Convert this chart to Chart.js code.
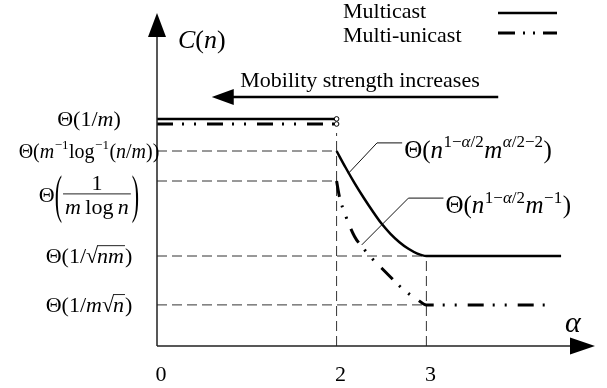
<!DOCTYPE html>
<html lang="en">
<head>
<meta charset="UTF-8">
<title>C(n) vs alpha</title>
<script src="https://cdn.jsdelivr.net/npm/chart.js"></script>
<style>
  html, body { margin: 0; padding: 0; background: #fff; }
  canvas { display: block; }
</style>
</head>
<body>
<canvas id="chart" width="607" height="388"></canvas>
<script>
// ---- data ----
const seriesNames = ['Multicast', 'Multi-unicast'];

// alpha < 2 : flat capacity (strong mobility)
const flatAlpha = [0, 2];
const multicastFlat = [7.57, 7.57];
const unicastFlat = [7.4, 7.4];

// 2 <= alpha <= 3 : decreasing, then flat tail
const multicastAlpha = [2, 2.1, 2.2, 2.3, 2.4, 2.5, 2.6, 2.7, 2.8, 2.9, 3, 4.5];
const multicastDrop = [6.5, 5.95, 5.43, 4.95, 4.5, 4.08, 3.74, 3.46, 3.24, 3.08, 3.0, 3.0];
const unicastAlpha = [2, 2.03, 2.1, 2.2, 2.3, 2.4, 2.5, 2.6, 2.7, 2.8, 2.9, 3, 4.41];
const unicastDrop = [5.5, 5.0, 4.35, 3.65, 3.25, 2.9, 2.6, 2.3, 2.0, 1.75, 1.55, 1.37, 1.37];

// ticks
const xTicks = [0, 2, 3];
const xTickLabels = ['0', '2', '3'];
const yTicks = [7.57, 6.5, 5.5, 3.0, 1.37];
// markup: _italic_, ^{sup}, √{radicand}, [num|den] = big-paren fraction
const yTickLabels = [
  'Θ(1/_m_)',
  'Θ(_m_^{−1}log^{−1}(_n_/_m_))',
  'Θ[1|_m_\u2009log\u2009_n_]',
  'Θ(1/√{_nm_})',
  'Θ(1/_m_√{_n_})'
];
const curveLabels = ['Θ(_n_^{1−_α_/2}_m_^{_α_/2−2})', 'Θ(_n_^{1−_α_/2}_m_^{−1})'];
const mobilityText = 'Mobility strength increases';

const FONT = '"Liberation Serif", "Times New Roman", serif';
const dashDot = [16, 9, 2, 10, 2, 11];
const guideDash = [10, 5];

function pts(xs, ys) { return xs.map((v, i) => ({x: v, y: ys[i]})); }

function guide(x1, y1, x2, y2) {
  return {
    data: [{x: x1, y: y1}, {x: x2, y: y2}],
    borderColor: '#333', borderWidth: 1, borderDash: guideDash,
    pointRadius: 0, fill: false, order: 5
  };
}

// ---- tiny math text renderer ----
function mathRun(ctx, s, x, y, size, draw) {
  let it = false, buf = '', i = 0;
  const font = sz => (it ? 'italic ' : '') + sz + 'px ' + FONT;
  const flush = () => {
    if (!buf) return;
    ctx.font = font(size);
    if (draw) ctx.fillText(buf, x, y);
    x += ctx.measureText(buf).width;
    buf = '';
  };
  while (i < s.length) {
    const c = s[i];
    if (c === '_') { flush(); it = !it; i++; }
    else if ((c === '^' || c === '√') && s[i + 1] === '{') {
      flush();
      const end = s.indexOf('}', i);
      const inner = s.slice(i + 2, end);
      if (c === '^') {
        x = mathRun(ctx, inner, x + 0.5, y - size * 0.42, Math.round(size * 0.66), draw) + 0.5;
      } else {
        ctx.font = size + 'px ' + FONT;
        if (draw) ctx.fillText('√', x, y);
        x += ctx.measureText('√').width - 1;
        const x0 = x;
        x = mathRun(ctx, inner, x, y, size, draw);
        if (draw) {
          ctx.beginPath();
          ctx.lineWidth = 1;
          ctx.moveTo(x0, y - size * 0.8);
          ctx.lineTo(x + 1, y - size * 0.8);
          ctx.stroke();
        }
        x += 1;
      }
      i = end + 1;
    }
    else if (c === '[') {
      flush();
      const end = s.indexOf(']', i);
      const bar = s.indexOf('|', i);
      const num = s.slice(i + 1, bar), den = s.slice(bar + 1, end);
      const wn = mathRun(ctx, num, 0, 0, size, false);
      const wd = mathRun(ctx, den, 0, 0, size, false);
      const w = Math.max(wn, wd) + 4;
      const mid = y - size * 0.3;
      x += bigParen(ctx, '(', x, mid, size, draw) + 1;
      if (draw) {
        mathRun(ctx, num, x + (w - wn) / 2, mid - size * 0.25, size, true);
        mathRun(ctx, den, x + (w - wd) / 2, mid + size * 0.85, size, true);
        ctx.beginPath();
        ctx.lineWidth = 1;
        ctx.moveTo(x, mid - size * 0.08);
        ctx.lineTo(x + w, mid - size * 0.08);
        ctx.stroke();
      }
      x += w + 1;
      x += bigParen(ctx, ')', x, mid, size, draw);
      i = end + 1;
    }
    else { buf += c; i++; }
  }
  flush();
  return x;
}

function bigParen(ctx, ch, x, mid, size, draw) {
  ctx.font = size + 'px ' + FONT;
  const w = ctx.measureText(ch).width;
  if (draw) {
    ctx.save();
    ctx.translate(x, mid);
    ctx.scale(1, 2.4);
    ctx.fillText(ch, 0, size * 0.3);
    ctx.restore();
  }
  return w;
}

// ---- decorations: axes, labels, legend, notes ----
const decor = {
  id: 'decor',
  afterDraw(chart) {
    const {ctx, chartArea: a, scales: {x, y}} = chart;
    const x0 = x.getPixelForValue(0), y0 = y.getPixelForValue(0);
    ctx.save();
    ctx.fillStyle = '#000';
    ctx.strokeStyle = '#222';

    // axes with arrow heads
    ctx.lineWidth = 1.5;
    ctx.beginPath();
    ctx.moveTo(x0, y0); ctx.lineTo(x0, a.top + 22);
    ctx.moveTo(x0, y0); ctx.lineTo(a.right - 26, y0);
    ctx.stroke();
    ctx.beginPath();
    ctx.moveTo(x0, a.top); ctx.lineTo(x0 - 9, a.top + 24); ctx.lineTo(x0 + 9, a.top + 24);
    ctx.closePath(); ctx.fill();
    ctx.beginPath();
    ctx.moveTo(a.right - 2, y0); ctx.lineTo(a.right - 27, y0 - 8.5); ctx.lineTo(a.right - 27, y0 + 8.5);
    ctx.closePath(); ctx.fill();

    // axis titles
    ctx.textBaseline = 'alphabetic';
    ctx.textAlign = 'left';
    mathRun(ctx, '_C_(_n_)', x0 + 21, 48, 26, true);
    mathRun(ctx, '_α_', a.right - 32, y0 - 14, 30, true);

    // x tick labels
    ctx.font = '22px ' + FONT;
    ctx.textAlign = 'center';
    xTicks.forEach((v, i) => ctx.fillText(xTickLabels[i], x.getPixelForValue(v) + 4, y0 + 35));
    ctx.textAlign = 'left';

    // y tick labels, centred in the left margin
    yTickLabels.forEach((lab, i) => {
      const size = lab.includes('log^') ? 20 : 22;
      const w = mathRun(ctx, lab, 0, 0, size, false);
      let by = y.getPixelForValue(yTicks[i]) + size * 0.33;
      if (lab.includes('[')) by += 14;
      mathRun(ctx, lab, 89 - w / 2, by, size, true);
    });

    // legend
    const legY = [13, 35];
    chart.data.datasets.filter(d => d.legend).forEach((d, i) => {
      ctx.font = '22px ' + FONT;
      ctx.textBaseline = 'middle';
      ctx.fillText(d.label, 343, legY[i] - (i ? -1 : 1));
      ctx.beginPath();
      ctx.setLineDash(i ? [17, 8, 2, 8, 2, 8] : []);
      ctx.lineWidth = d.borderWidth;
      ctx.strokeStyle = '#000';
      ctx.moveTo(498, legY[i] - (i ? 2 : 0)); ctx.lineTo(557, legY[i] - (i ? 2 : 0));
      ctx.stroke();
      ctx.setLineDash([]);
    });

    // mobility arrow
    const ay = y.getPixelForValue(8.3);
    const ax1 = x.getPixelForValue(0.61), ax2 = x.getPixelForValue(3.8);
    ctx.strokeStyle = '#000';
    ctx.lineWidth = 2.5;
    ctx.beginPath(); ctx.moveTo(ax1 + 15, ay); ctx.lineTo(ax2, ay); ctx.stroke();
    ctx.beginPath();
    ctx.moveTo(ax1, ay); ctx.lineTo(ax1 + 22, ay - 8); ctx.lineTo(ax1 + 22, ay + 8);
    ctx.closePath(); ctx.fill();
    ctx.font = '22px ' + FONT;
    ctx.textAlign = 'center';
    ctx.textBaseline = 'middle';
    ctx.fillText(mobilityText, (ax1 + ax2) / 2 + 5, ay - 16);
    ctx.textAlign = 'left';
    ctx.textBaseline = 'alphabetic';

    // curve notes with leader lines
    const notes = [
      {tip: [2.13, 5.75], elbow: [2.45, 6.77], end: [2.73, 6.77]},
      {tip: [2.28, 3.37], elbow: [2.8, 4.93], end: [3.19, 4.93]}
    ];
    notes.forEach((n, i) => {
      const px = p => [x.getPixelForValue(p[0]), y.getPixelForValue(p[1])];
      const t = px(n.tip), e = px(n.elbow), f = px(n.end);
      ctx.lineWidth = 1;
      ctx.strokeStyle = '#111';
      ctx.beginPath(); ctx.moveTo(t[0], t[1]); ctx.lineTo(e[0], e[1]); ctx.lineTo(f[0], f[1]); ctx.stroke();
      mathRun(ctx, curveLabels[i], f[0] + 2, f[1] + 15, 25, true);
    });
    ctx.restore();
  }
};

const ctx = document.getElementById('chart').getContext('2d');
new Chart(ctx, {
  type: 'line',
  data: {
    datasets: [
      {
        label: seriesNames[0], legend: true,
        data: pts(multicastAlpha, multicastDrop),
        borderColor: '#000', borderWidth: 2.5, pointRadius: 0,
        cubicInterpolationMode: 'monotone', order: 1
      },
      {
        label: seriesNames[1], legend: true,
        data: pts(unicastAlpha, unicastDrop),
        borderColor: '#000', borderWidth: 3, borderDash: dashDot, pointRadius: 0,
        cubicInterpolationMode: 'monotone', order: 2
      },
      {
        data: pts(flatAlpha, multicastFlat),
        borderColor: '#000', borderWidth: 2.5,
        pointRadius: [0, 2.3], pointBackgroundColor: '#fff', pointBorderColor: '#000', pointBorderWidth: 1,
        order: 0
      },
      {
        data: pts(flatAlpha, unicastFlat),
        borderColor: '#000', borderWidth: 3, borderDash: dashDot,
        pointRadius: [0, 2.3], pointBackgroundColor: '#fff', pointBorderColor: '#000', pointBorderWidth: 1,
        order: 0
      },
      guide(0, yTicks[1], 2, yTicks[1]),
      guide(0, yTicks[2], 2, yTicks[2]),
      guide(0, yTicks[3], 3, yTicks[3]),
      guide(0, yTicks[4], 3, yTicks[4]),
      guide(2, 0, 2, 7.1),
      guide(3, 0, 3, yTicks[3])
    ]
  },
  options: {
    responsive: false,
    animation: false,
    devicePixelRatio: 1,
    layout: {padding: {left: 157, right: 10, top: 13, bottom: 42}},
    scales: {
      x: {type: 'linear', min: 0, max: 4.9, display: false},
      y: {type: 'linear', min: 0, max: 11.1, display: false}
    },
    elements: {line: {fill: false, borderCapStyle: 'butt'}},
    datasets: {line: {clip: false}},
    plugins: {legend: {display: false}, tooltip: {enabled: false}}
  },
  plugins: [decor]
});
</script>
</body>
</html>
